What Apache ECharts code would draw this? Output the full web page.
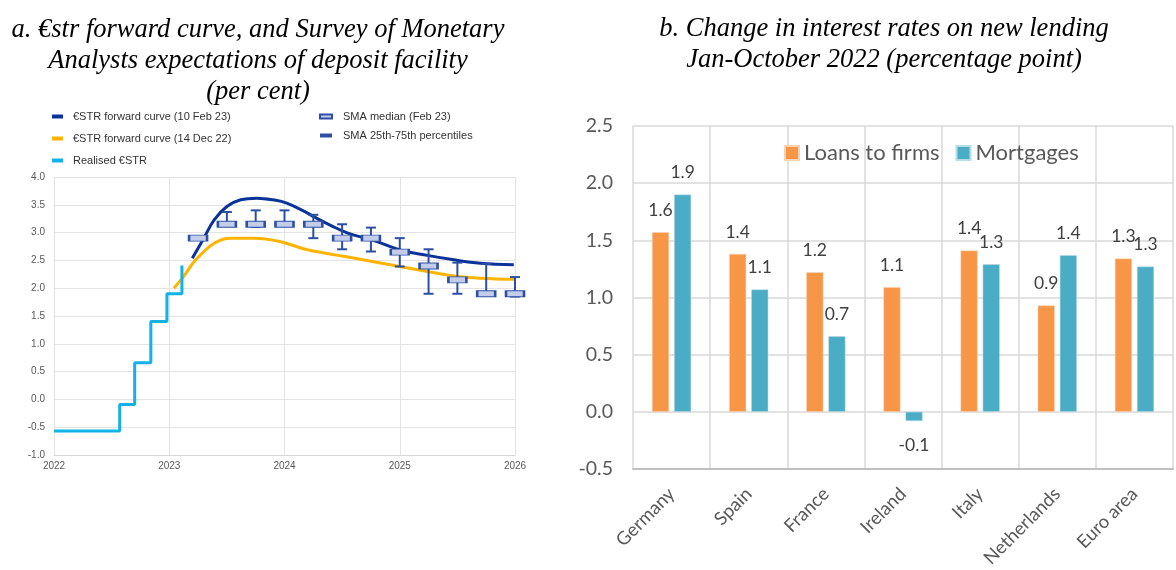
<!DOCTYPE html>
<html>
<head>
<meta charset="utf-8">
<script src="https://cdn.jsdelivr.net/npm/echarts@6/dist/echarts.min.js"></script>
<style>
  html, body { margin: 0; padding: 0; background: #ffffff; }
  #chart { width: 1176px; height: 570px; }
</style>
</head>
<body>
<div id="chart"></div>
<script>
// ---------- Panel a data ----------
const yearTicks = [2022, 2023, 2024, 2025, 2026];

const fwdFebDates  = [2023.20, 2023.30, 2023.39, 2023.50, 2023.62, 2023.76, 2023.90, 2024.02, 2024.20, 2024.25, 2024.40, 2024.55, 2024.77, 2025.00, 2025.24, 2025.47, 2025.70, 2025.99];
const fwdFebValues = [2.54, 2.90, 3.23, 3.47, 3.59, 3.62, 3.59, 3.53, 3.35, 3.29, 3.13, 2.99, 2.86, 2.69, 2.59, 2.51, 2.45, 2.42];

const fwdDecDates  = [2023.04, 2023.12, 2023.23, 2023.39, 2023.53, 2023.73, 2023.96, 2024.20, 2024.55, 2025.00, 2025.24, 2025.47, 2025.70, 2026.00];
const fwdDecValues = [2.00, 2.20, 2.51, 2.81, 2.90, 2.90, 2.84, 2.69, 2.56, 2.39, 2.30, 2.22, 2.18, 2.16];

const estrDates  = [2022.00, 2022.57, 2022.70, 2022.84, 2022.98, 2023.11];
const estrValues = [-0.57, -0.09, 0.66, 1.40, 1.90, 2.41];

const smaDates   = [2023.25, 2023.50, 2023.75, 2024.00, 2024.25, 2024.50, 2024.75, 2025.00, 2025.25, 2025.50, 2025.75, 2026.00];
const smaMedian  = [2.90, 3.15, 3.15, 3.15, 3.15, 2.90, 2.90, 2.65, 2.40, 2.15, 1.90, 1.90];
const smaP25     = [2.90, 3.15, 3.10, 3.15, 2.90, 2.70, 2.66, 2.39, 1.90, 1.90, 1.90, 1.85];
const smaP75     = [2.90, 3.37, 3.40, 3.40, 3.32, 3.15, 3.09, 2.90, 2.70, 2.46, 2.44, 2.20];

// ---------- Panel b data ----------
const countries     = ['Germany', 'Spain', 'France', 'Ireland', 'Italy', 'Netherlands', 'Euro area'];
const loansToFirms  = [1.57, 1.38, 1.22, 1.09, 1.41, 0.93, 1.34];
const mortgages     = [1.90, 1.07, 0.66, -0.08, 1.29, 1.37, 1.27];

// ---------- helpers ----------
const zip = (a, b) => a.map((v, i) => [v, b[i]]);
const BLUE = '#0a3399', ORANGE = '#ffb400', LIGHTBLUE = '#12b1e8', SMA = '#2c4fa3';
const leftFont = 'Liberation Sans, Arial, sans-serif';
const rightFont = 'Lato, "Open Sans", sans-serif';
const titleFont = 'italic 26.5px "Liberation Serif", "Times New Roman", serif';

function renderWhisker(params, api) {
  const x = api.value(0), lo = api.value(1), hi = api.value(2);
  if (hi === lo) return { type: 'group', children: [] };
  const pLo = api.coord([x, lo]), pHi = api.coord([x, hi]);
  const c = 5;
  const st = { stroke: SMA, lineWidth: 2 };
  return {
    type: 'group',
    children: [
      { type: 'line', shape: { x1: pLo[0], y1: pLo[1], x2: pHi[0], y2: pHi[1] }, style: st },
      { type: 'line', shape: { x1: pLo[0] - c, y1: pLo[1], x2: pLo[0] + c, y2: pLo[1] }, style: st },
      { type: 'line', shape: { x1: pHi[0] - c, y1: pHi[1], x2: pHi[0] + c, y2: pHi[1] }, style: st }
    ]
  };
}

const chart = echarts.init(document.getElementById('chart'), null, { renderer: 'canvas' });

const option = {
  animation: false,
  backgroundColor: '#ffffff',
  graphic: [
    { type: 'text', x: 258, y: 15, style: { text: 'a. €str forward curve, and Survey of Monetary\nAnalysts expectations of deposit facility\n(per cent)', textAlign: 'center', font: titleFont, lineHeight: 31, fill: '#000' } },
    { type: 'text', x: 884, y: 14, style: { text: 'b. Change in interest rates on new lending\nJan-October 2022 (percentage point)', textAlign: 'center', font: titleFont, lineHeight: 31, fill: '#000' } }
  ],
  legend: [
    {
      data: [
        { name: '€STR forward curve (10 Feb 23)', icon: 'rect' },
        { name: '€STR forward curve (14 Dec 22)', icon: 'rect' },
        { name: 'Realised €STR', icon: 'rect' }
      ],
      orient: 'vertical', left: 52, top: 111, itemWidth: 11, itemHeight: 4, itemGap: 11, padding: 0,
      textStyle: { fontFamily: leftFont, fontSize: 11, color: '#333', padding: [0, 0, 0, 5] }
    },
    {
      data: [
        { name: 'SMA median (Feb 23)' },
        { name: 'SMA 25th-75th percentiles', icon: 'rect', itemStyle: { color: SMA } }
      ],
      orient: 'vertical', left: 319, top: 111, itemWidth: 12, itemHeight: 4, itemGap: 8, padding: 0,
      textStyle: { fontFamily: leftFont, fontSize: 11, color: '#333', padding: [0, 0, 0, 6] }
    },
    {
      data: ['Loans to firms', 'Mortgages'],
      orient: 'horizontal', left: 784, top: 142, itemWidth: 14, itemHeight: 14, itemGap: 16, padding: 0,
      icon: 'rect',
      textStyle: { fontFamily: rightFont, fontSize: 22, color: '#595959', padding: [0, 0, 0, 0] }
    }
  ],
  grid: [
    { left: 54, top: 177, width: 461, height: 278, containLabel: false },
    { left: 633, top: 126, width: 540, height: 344, containLabel: false }
  ],
  xAxis: [
    {
      gridIndex: 0, type: 'value', min: 2022, max: 2026, interval: 1,
      axisLine: { show: true, onZero: false, lineStyle: { color: '#d9d9d9', width: 1 } },
      axisTick: { show: false },
      axisLabel: { fontFamily: leftFont, fontSize: 10, color: '#595959', margin: 6, formatter: v => String(v) },
      splitLine: { show: true, lineStyle: { color: '#e3e3e3', width: 1 } }
    },
    {
      gridIndex: 1, type: 'category', data: countries, boundaryGap: true,
      axisLine: { show: true, onZero: false, lineStyle: { color: '#bfbfbf', width: 2 } },
      axisTick: { show: false },
      axisLabel: { fontFamily: rightFont, fontSize: 18.5, color: '#595959', rotate: 45, margin: 22, interval: 0 },
      splitLine: { show: true, interval: 0, lineStyle: { color: '#d9d9d9', width: 1.5 } }
    }
  ],
  yAxis: [
    {
      gridIndex: 0, type: 'value', min: -1, max: 4, interval: 0.5,
      axisLine: { show: false }, axisTick: { show: false },
      axisLabel: { fontFamily: leftFont, fontSize: 10, color: '#595959', margin: 9, formatter: v => v.toFixed(1) },
      splitLine: { show: true, lineStyle: { color: '#e3e3e3', width: 1 } }
    },
    {
      gridIndex: 1, type: 'value', min: -0.5, max: 2.5, interval: 0.5,
      axisLine: { show: false }, axisTick: { show: false },
      axisLabel: { fontFamily: rightFont, fontSize: 19.5, color: '#595959', margin: 20, formatter: v => v.toFixed(1) },
      splitLine: { show: true, lineStyle: { color: '#d9d9d9', width: 1.5 } }
    }
  ],
  series: [
    {
      name: 'Realised €STR', type: 'line', xAxisIndex: 0, yAxisIndex: 0,
      data: zip(estrDates, estrValues), step: 'end', showSymbol: false,
      lineStyle: { color: LIGHTBLUE, width: 3 }, itemStyle: { color: LIGHTBLUE }, z: 3
    },
    {
      name: '€STR forward curve (14 Dec 22)', type: 'line', xAxisIndex: 0, yAxisIndex: 0,
      data: zip(fwdDecDates, fwdDecValues), smooth: 0.4, showSymbol: false,
      lineStyle: { color: ORANGE, width: 3 }, itemStyle: { color: ORANGE }, z: 2
    },
    {
      name: '€STR forward curve (10 Feb 23)', type: 'line', xAxisIndex: 0, yAxisIndex: 0,
      data: zip(fwdFebDates, fwdFebValues), smooth: 0.4, showSymbol: false,
      lineStyle: { color: BLUE, width: 3 }, itemStyle: { color: BLUE }, z: 3
    },
    {
      name: 'SMA 25th-75th percentiles', type: 'custom', xAxisIndex: 0, yAxisIndex: 0,
      renderItem: renderWhisker,
      data: smaDates.map((d, i) => [d, smaP25[i], smaP75[i]]),
      itemStyle: { color: SMA }, z: 4,
      encode: { x: 0, y: [1, 2] }
    },
    {
      name: 'SMA median (Feb 23)', type: 'scatter', xAxisIndex: 0, yAxisIndex: 0,
      data: zip(smaDates, smaMedian), symbol: 'rect', symbolSize: [18, 6],
      itemStyle: { color: '#c3cdea', borderColor: SMA, borderWidth: 1.5, opacity: 1 }, z: 5
    },
    {
      name: 'Loans to firms', type: 'bar', xAxisIndex: 1, yAxisIndex: 1,
      data: loansToFirms, barWidth: 17, barGap: '30%',
      itemStyle: { color: '#f79646', borderColor: '#fbd3b3', borderWidth: 0.5 },
      label: { show: true, position: 'top', distance: 13, fontFamily: rightFont, fontSize: 17.5, color: '#404040', formatter: p => p.value.toFixed(1) }
    },
    {
      name: 'Mortgages', type: 'bar', xAxisIndex: 1, yAxisIndex: 1,
      data: mortgages.map(v => v < 0 ? { value: v, label: { position: 'bottom', distance: 15 } } : v),
      barWidth: 17, barGap: '30%',
      itemStyle: { color: '#4bacc6', borderColor: '#b7dde8', borderWidth: 0.5 },
      label: { show: true, position: 'top', distance: 13, fontFamily: rightFont, fontSize: 17.5, color: '#404040', formatter: p => p.value.toFixed(1) }
    }
  ]
};

chart.setOption(option);
</script>
</body>
</html>
